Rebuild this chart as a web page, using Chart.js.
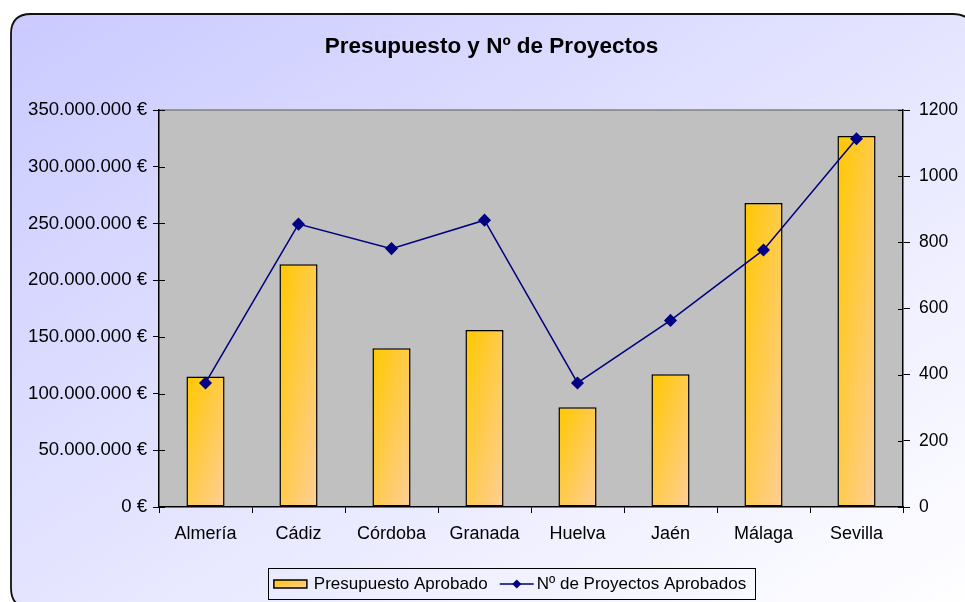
<!DOCTYPE html>
<html>
<head>
<meta charset="utf-8">
<script src="https://cdn.jsdelivr.net/npm/chart.js@4.4.0/dist/chart.umd.min.js"></script>
<style>
  html, body { margin: 0; padding: 0; background: #fff; }
</style>
</head>
<body>
<canvas id="grafico" width="965" height="602"></canvas>
<script>
// datos
const provincias = ["Almería", "Cádiz", "Córdoba", "Granada", "Huelva", "Jaén", "Málaga", "Sevilla"];
const presupuesto = [115000000, 214000000, 140000000, 156000000, 88000000, 117000000, 268000000, 327000000];
const proyectos = [375, 855, 781, 867, 375, 564, 777, 1113];
const ejeEuros = [0, 50000000, 100000000, 150000000, 200000000, 250000000, 300000000, 350000000];
const ejeProyectos = [0, 200, 400, 600, 800, 1000, 1200];

const FUENTE = "'Liberation Sans', Arial, sans-serif";
Chart.defaults.font.family = FUENTE;
Chart.defaults.color = '#000';

const ORO = '#FFC800', MELOCOTON = '#FFCE98';
const BAR_PCT = 0.41;

// gradiente "diagonal" estilo Excel sobre una caja
function diagGrad(ctx, x, y, w, h, c0, c1) {
    const k = 2 / (1 / (w * w) + 1 / (h * h));
    const g = ctx.createLinearGradient(x, y, x + k / w, y + k / h);
    g.addColorStop(0, c0);
    g.addColorStop(1, c1);
    return g;
}

function relleno(c) {
    const chart = c.chart;
    const xs = chart.scales.x, ys = chart.scales.y;
    if (c.type !== 'data' || !xs || !ys || !xs.width) return ORO;
    const cx = xs.getPixelForValue(c.dataIndex);
    const w = xs.width / provincias.length * BAR_PCT;
    const top = ys.getPixelForValue(c.raw);
    const base = ys.getPixelForValue(0);
    return diagGrad(chart.ctx, cx - w / 2, top, w, Math.max(base - top, 1), ORO, MELOCOTON);
}

function euros(v) {
    return String(v).replace(/\B(?=(\d{3})+(?!\d))/g, '.') + ' €';
}

function rutaRedondeada(ctx, x, y, w, h, r) {
    ctx.beginPath();
    ctx.moveTo(x + r, y);
    ctx.lineTo(x + w - r, y);
    ctx.quadraticCurveTo(x + w, y, x + w, y + r);
    ctx.lineTo(x + w, y + h - r);
    ctx.quadraticCurveTo(x + w, y + h, x + w - r, y + h);
    ctx.lineTo(x + r, y + h);
    ctx.quadraticCurveTo(x, y + h, x, y + h - r);
    ctx.lineTo(x, y + r);
    ctx.quadraticCurveTo(x, y, x + r, y);
    ctx.closePath();
}

// fondo del panel y del area de trazado
const fondo = {
    id: 'fondo',
    beforeDraw(chart) {
        const ctx = chart.ctx;
        const a = chart.chartArea;
        ctx.save();
        rutaRedondeada(ctx, 11, 14, 962, 594, 20);
        ctx.fillStyle = diagGrad(ctx, 11, 14, 962, 594, '#CACAFF', '#FFFFFF');
        ctx.fill();
        ctx.lineWidth = 1.8;
        ctx.strokeStyle = '#111';
        ctx.stroke();

        ctx.fillStyle = '#C0C0C0';
        ctx.fillRect(a.left, a.top, a.right - a.left, a.bottom - a.top);
        ctx.strokeStyle = '#808080';
        ctx.lineWidth = 1.5;
        ctx.beginPath();
        ctx.moveTo(a.left, a.top);
        ctx.lineTo(a.right, a.top);
        ctx.stroke();
        ctx.restore();
    },
    beforeDatasetsDraw(chart) {
        // parte interior de las marcas de los ejes verticales
        const ctx = chart.ctx;
        const a = chart.chartArea;
        ctx.save();
        ctx.strokeStyle = '#000';
        ctx.lineWidth = 1;
        ctx.beginPath();
        chart.scales.y.ticks.forEach(t => {
            const y = Math.round(chart.scales.y.getPixelForValue(t.value)) + 0.5;
            ctx.moveTo(a.left, y); ctx.lineTo(a.left + 6, y);
        });
        chart.scales.y1.ticks.forEach(t => {
            const y = Math.round(chart.scales.y1.getPixelForValue(t.value)) + 0.5;
            ctx.moveTo(a.right - 5, y); ctx.lineTo(a.right, y);
        });
        ctx.stroke();
        ctx.restore();
    }
};

// leyenda con recuadro
const leyenda = {
    id: 'leyenda',
    afterDraw(chart) {
        const ctx = chart.ctx;
        const dsBar = chart.data.datasets[0], dsLin = chart.data.datasets[1];
        ctx.save();
        ctx.font = '17px ' + FUENTE;
        const w1 = ctx.measureText(dsBar.label).width;
        const w2 = ctx.measureText(dsLin.label).width;
        const total = 33 + 7 + w1 + 12 + 34 + 3 + w2;
        let x = 510 - total / 2;
        const cy = 584;

        ctx.strokeStyle = '#000';
        ctx.lineWidth = 1;
        ctx.strokeRect(Math.round(x - 6) + 0.5, 568.5, Math.round(total + 15), 31);

        ctx.fillStyle = diagGrad(ctx, x, cy - 4, 33, 8, ORO, MELOCOTON);
        ctx.fillRect(x, cy - 4, 33, 8);
        ctx.lineWidth = 1.5;
        ctx.strokeRect(x, cy - 4, 33, 8);

        ctx.fillStyle = '#000';
        ctx.textBaseline = 'alphabetic';
        ctx.fillText(dsBar.label, x + 40, 588.5);

        const x2 = x + 40 + w1 + 12;
        ctx.strokeStyle = dsLin.borderColor;
        ctx.lineWidth = 1.5;
        ctx.beginPath();
        ctx.moveTo(x2, cy); ctx.lineTo(x2 + 34, cy);
        ctx.stroke();
        ctx.fillStyle = dsLin.borderColor;
        ctx.beginPath();
        ctx.moveTo(x2 + 17, cy - 4.5); ctx.lineTo(x2 + 21.5, cy);
        ctx.lineTo(x2 + 17, cy + 4.5); ctx.lineTo(x2 + 12.5, cy);
        ctx.closePath();
        ctx.fill();

        ctx.fillStyle = '#000';
        ctx.fillText(dsLin.label, x2 + 37, 588.5);
        ctx.restore();
    }
};

const fuenteEje = { size: 18 };

new Chart(document.getElementById('grafico'), {
    type: 'bar',
    data: {
        labels: provincias,
        datasets: [
            {
                type: 'bar',
                label: 'Presupuesto Aprobado',
                data: presupuesto,
                yAxisID: 'y',
                backgroundColor: relleno,
                borderColor: '#000',
                borderWidth: 1.5,
                borderSkipped: false,
                categoryPercentage: 1,
                barPercentage: BAR_PCT,
                order: 2
            },
            {
                type: 'line',
                label: 'Nº de Proyectos Aprobados',
                data: proyectos,
                yAxisID: 'y1',
                borderColor: '#000080',
                borderWidth: 1.5,
                pointStyle: 'rectRot',
                pointRadius: 5.5,
                pointBackgroundColor: '#000080',
                pointBorderColor: '#000080',
                tension: 0,
                order: 1
            }
        ]
    },
    options: {
        responsive: false,
        animation: false,
        devicePixelRatio: 1,
        layout: { padding: { top: 14, left: 18, right: 0, bottom: 0 } },
        plugins: {
            legend: { display: false },
            tooltip: { enabled: false },
            title: {
                display: true,
                text: 'Presupuesto y Nº de Proyectos',
                color: '#000',
                font: { size: 22.5, weight: 'bold' },
                padding: { top: 19.2, bottom: 49.8 }
            }
        },
        scales: {
            x: {
                offset: true,
                grid: { offset: true, drawOnChartArea: false, color: '#000', tickLength: 6 },
                border: { color: '#000', width: 1.5 },
                ticks: { color: '#000', font: fuenteEje, padding: 10.7, maxRotation: 0, autoSkip: false },
                afterFit: s => { s.height = 95; }
            },
            y: {
                position: 'left',
                min: 0,
                max: 350000000,
                afterBuildTicks: s => { s.ticks = ejeEuros.map(v => ({ value: v })); },
                grid: { drawOnChartArea: false, color: '#000', tickLength: 6 },
                border: { color: '#000', width: 1.5 },
                ticks: { color: '#000', font: { size: 18.6 }, padding: 6, callback: v => euros(v) },
                afterFit: s => { s.width = 141; }
            },
            y1: {
                position: 'right',
                min: 0,
                max: 1200,
                afterBuildTicks: s => { s.ticks = ejeProyectos.map(v => ({ value: v })); },
                grid: { drawOnChartArea: false, color: '#000', tickLength: 7 },
                border: { color: '#000', width: 1.5 },
                ticks: { color: '#000', font: { size: 17.5 }, padding: 9, callback: v => String(v) },
                afterFit: s => { s.width = 62; }
            }
        }
    },
    plugins: [fondo, leyenda]
});
</script>
</body>
</html>
